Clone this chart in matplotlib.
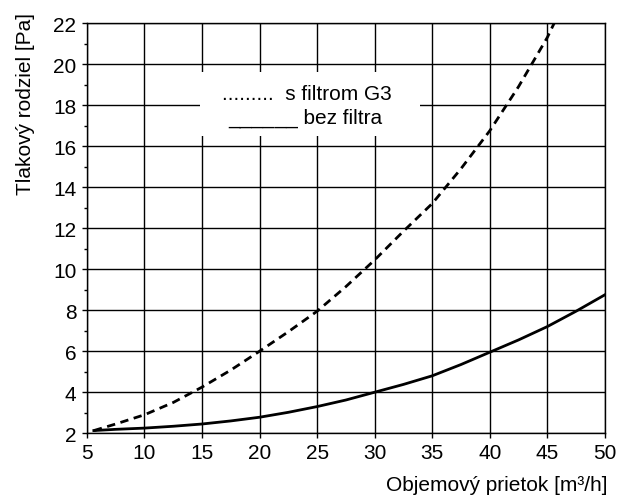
import matplotlib.pyplot as plt
from matplotlib.ticker import MultipleLocator
from matplotlib.patches import Rectangle

plt.rcParams["font.family"] = ["Liberation Sans", "DejaVu Sans"]

# flow rate [m3/h] and pressure drop [Pa]
x_bez = [5.6, 7.5, 10, 12.5, 15, 17.5, 20, 22.5, 25, 27.5, 30, 32.5, 35, 37.5, 40, 42.5, 45, 47.5, 50]
y_bez = [2.13, 2.19, 2.25, 2.34, 2.45, 2.6, 2.78, 3.02, 3.3, 3.62, 4.0, 4.38, 4.8, 5.35, 5.95, 6.55, 7.2, 7.95, 8.75]

x_g3 = [5.6, 7.5, 10, 12.5, 15, 17.5, 20, 22.5, 25, 27.5, 30, 32.5, 35, 37.5, 40, 42.5, 45, 45.6]
y_g3 = [2.13, 2.45, 2.9, 3.5, 4.25, 5.08, 6.0, 6.95, 7.95, 9.15, 10.45, 11.85, 13.2, 14.9, 16.75, 18.9, 21.3, 22.0]

fig = plt.figure(figsize=(6.21, 5.02), dpi=100)
ax = fig.add_axes([0.140, 0.135, 0.834, 0.817])

ax.plot(x_bez, y_bez, color="black", lw=2.0, zorder=3)
ax.plot(x_g3, y_g3, color="black", lw=2.0, linestyle=(0, (3, 2.0)), zorder=3)

ax.set_xlim(5, 50)
ax.set_ylim(2, 22)
ax.xaxis.set_major_locator(MultipleLocator(5))
ax.yaxis.set_major_locator(MultipleLocator(2))
ax.yaxis.set_minor_locator(MultipleLocator(1))
ax.grid(which="major", color="black", lw=1.0)
ax.set_axisbelow(True)
for s in ax.spines.values():
    s.set_linewidth(1.0)

ax.tick_params(which="major", direction="out", length=3.6, width=1, labelsize=15)
ax.tick_params(axis="x", which="major", pad=3.5)
ax.tick_params(axis="y", which="major", pad=4)
ax.tick_params(which="minor", direction="out", length=2.5, width=1)

ax.set_ylabel("Tlakový rodziel [Pa]", fontsize=15, labelpad=13, loc="top")
ax.yaxis.label.set_y(1.027)
ax.set_xlabel("Objemový prietok [m³/h]", fontsize=15, loc="right", labelpad=9)
ax.xaxis.label.set_x(1.006)

# legend box drawn as text on white background
ax.add_patch(Rectangle((14.8, 16.5), 19.1, 3.1, facecolor="white", edgecolor="none", zorder=2))
ax.text(24.1, 18.29, ".........  s filtrom G3", fontsize=15, ha="center", va="baseline", zorder=4)
ax.text(24.0, 17.16, "______ bez filtra", fontsize=15, ha="center", va="baseline", zorder=4)

fig.savefig("out.png", dpi=100)
